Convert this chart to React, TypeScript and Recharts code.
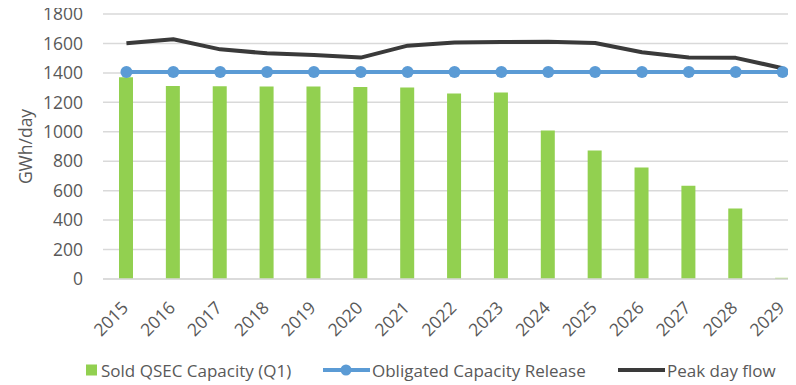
import React from 'react';
import {
  ComposedChart,
  Bar,
  Line,
  XAxis,
  YAxis,
  CartesianGrid,
  Legend,
  Label,
} from 'recharts';

// Gas year categories
const years = ['2015', '2016', '2017', '2018', '2019', '2020', '2021', '2022', '2023', '2024', '2025', '2026', '2027', '2028', '2029'];

// GWh/day
const soldQsec = [1370, 1311, 1309, 1307, 1307, 1305, 1300, 1260, 1266, 1008, 873, 758, 633, 479, 8];
const obligatedRelease = [1406, 1406, 1406, 1406, 1406, 1406, 1406, 1406, 1406, 1406, 1406, 1406, 1406, 1406, 1406];
const peakDayFlow = [1601, 1628, 1560, 1533, 1522, 1504, 1585, 1606, 1610, 1612, 1603, 1540, 1505, 1502, 1432];

const yTicks = [0, 200, 400, 600, 800, 1000, 1200, 1400, 1600, 1800];

const seriesNames = {
  sold: 'Sold QSEC Capacity (Q1)',
  obligated: 'Obligated Capacity Release',
  peak: 'Peak day flow',
};

const data = years.map((year, i) => ({
  year,
  sold: soldQsec[i],
  obligated: obligatedRelease[i],
  peak: peakDayFlow[i],
}));

const FONT = '"Open Sans", "Noto Sans", sans-serif';
const TEXT = '#595959';
const GREEN = '#92D050';
const BLUE = '#5B9BD5';
const DARK = '#3a3a3a';
const GRID = '#d9d9d9';

const YearTick = (props: any) => {
  const { x, y, payload } = props;
  return (
    <g transform={`translate(${x + 3},${y + 22})`}>
      <text
        textAnchor="end"
        transform="rotate(-45)"
        fill={TEXT}
        fontSize={17.5}
        fontFamily={FONT}
      >
        {payload.value}
      </text>
    </g>
  );
};

const AxisTitle = (props: any) => {
  const { viewBox } = props;
  const cx = viewBox.x + 25;
  const cy = viewBox.y + viewBox.height / 2;
  return (
    <text
      x={cx}
      y={cy}
      transform={`rotate(-90, ${cx}, ${cy})`}
      textAnchor="middle"
      dominantBaseline="central"
      fill={TEXT}
      fontSize={17.5}
      fontFamily={FONT}
    >
      GWh/day
    </text>
  );
};

const LegendRow = () => {
  const cy = 14;
  const textProps = {
    fill: TEXT,
    fontSize: 17,
    fontFamily: FONT,
    dominantBaseline: 'central' as const,
  };
  return (
    <svg width={810} height={28} style={{ display: 'block' }}>
      <rect x={86} y={cy - 5.5} width={11} height={11} fill={GREEN} />
      <text x={101} y={cy} {...textProps}>{seriesNames.sold}</text>
      <line x1={323} x2={370} y1={cy} y2={cy} stroke={BLUE} strokeWidth={4} />
      <circle cx={346} cy={cy} r={5.5} fill={BLUE} />
      <text x={372} y={cy} {...textProps}>{seriesNames.obligated}</text>
      <line x1={618} x2={665} y1={cy} y2={cy} stroke={DARK} strokeWidth={4} />
      <text x={667} y={cy} {...textProps}>{seriesNames.peak}</text>
    </svg>
  );
};

export default function App() {
  return (
    <div style={{ marginLeft: -8, marginTop: -8, width: 796, height: 385, overflow: 'hidden', background: '#fff' }}>
      <ComposedChart
        width={810}
        height={385}
        data={data}
        margin={{ top: 14, right: 4, left: 0, bottom: 1 }}
      >
        <CartesianGrid vertical={false} stroke={GRID} strokeWidth={1.5} />
        <XAxis
          dataKey="year"
          interval={0}
          height={77}
          tickLine={false}
          axisLine={{ stroke: GRID, strokeWidth: 1.5 }}
          tick={<YearTick />}
        />
        <YAxis
          width={103}
          domain={[0, 1800]}
          ticks={yTicks}
          interval={0}
          axisLine={false}
          tickLine={false}
          tickMargin={14}
          tick={{ fill: TEXT, fontSize: 17.5, fontFamily: FONT }}
        >
          <Label content={<AxisTitle />} />
        </YAxis>
        <Legend
          verticalAlign="bottom"
          content={<LegendRow />}
          wrapperStyle={{ left: 0, bottom: 1, width: 810, height: 28 }}
        />
        <Bar
          dataKey="sold"
          name={seriesNames.sold}
          fill={GREEN}
          barSize={14}
          isAnimationActive={false}
        />
        <Line
          dataKey="obligated"
          name={seriesNames.obligated}
          type="linear"
          stroke={BLUE}
          strokeWidth={4}
          dot={{ r: 6, fill: BLUE, stroke: 'none' }}
          activeDot={false}
          isAnimationActive={false}
        />
        <Line
          dataKey="peak"
          name={seriesNames.peak}
          type="linear"
          stroke={DARK}
          strokeWidth={4}
          strokeLinejoin="round"
          dot={false}
          activeDot={false}
          isAnimationActive={false}
        />
      </ComposedChart>
    </div>
  );
}
